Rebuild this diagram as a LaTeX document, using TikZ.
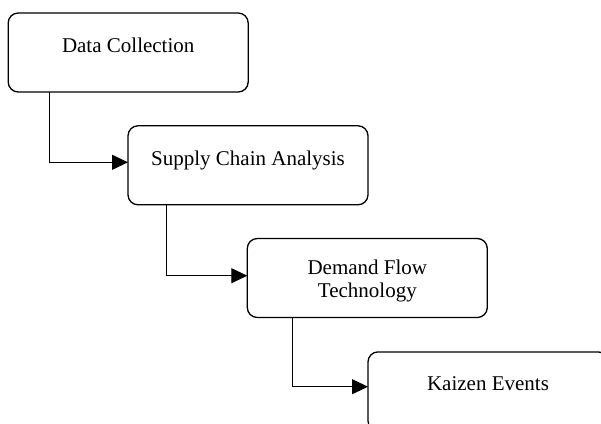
\documentclass[tikz,border=0pt]{standalone}
\usepackage{fontspec}
\setmainfont{Liberation Serif}
\usetikzlibrary{arrows.meta}
\tikzset{
  box/.style={draw, rounded corners=10pt, minimum width=240pt, minimum height=79pt, inner sep=0pt, outer sep=0pt, line width=1.3pt},
  lbl/.style={anchor=base, inner sep=0pt, font=\fontsize{21}{23}\selectfont, align=center},
  conn/.style={line width=1pt, -{Triangle[length=16pt,width=15pt]}}
}
\begin{document}
\begin{tikzpicture}[x=1pt,y=-1pt]
\path[use as bounding box, clip] (0,0) rectangle (601,423);
\node[box] (b1) at (128.2,52.5) {};
\node[box] (b2) at (248,165.3) {};
\node[box] (b3) at (367.3,278) {};
\node[box] (b4) at (488,391.4) {};
\node[lbl] (t1) at ([yshift=-39pt]b1.north) {Data Collection};
\node[lbl] (t2) at ([yshift=-39.5pt]b2.north) {Supply Chain Analysis};
\node[lbl] (t3) at ([yshift=-59.3pt]b3.north) {Demand Flow\\Technology};
\node[lbl] (t4) at ([yshift=-38.5pt]b4.north) {Kaizen Events};
\draw[conn] ([xshift=41.5pt]b1.south west) |- ([yshift=3pt]b2.west);
\draw[conn] ([xshift=38.4pt]b2.south west) |- ([yshift=2.3pt]b3.west);
\draw[conn] ([xshift=45pt]b3.south west) |- ([yshift=4.7pt]b4.west);
\end{tikzpicture}
\end{document}
